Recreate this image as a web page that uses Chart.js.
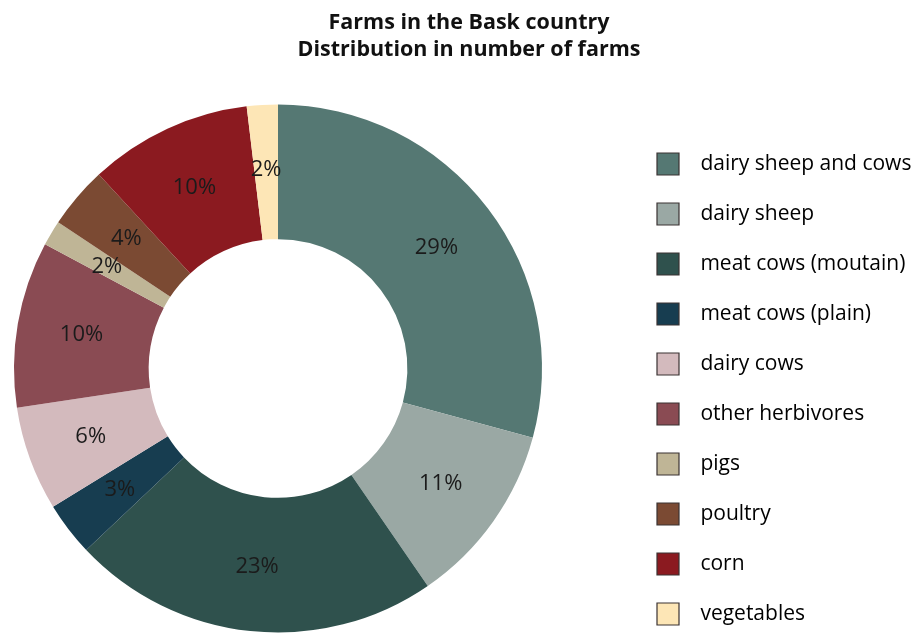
<!DOCTYPE html>
<html>
<head>
<meta charset="utf-8">
<script src="https://cdn.jsdelivr.net/npm/chart.js@4.4.1/dist/chart.umd.min.js"></script>
<style>
  html, body { margin: 0; padding: 0; background: #ffffff; overflow: hidden; }
  #wrap { width: 924px; height: 634px; position: relative; }
</style>
</head>
<body>
<div id="wrap"><canvas id="c" width="924" height="634"></canvas></div>
<script>
const titleLines = ['Farms in the Bask country', 'Distribution in number of farms'];
const categories = ['dairy sheep and cows', 'dairy sheep', 'meat cows (moutain)', 'meat cows (plain)', 'dairy cows', 'other herbivores', 'pigs', 'poultry', 'corn', 'vegetables'];
const shares = [29.3, 11.2, 22.6, 3.3, 6.4, 10.2, 1.55, 3.8, 10.0, 1.9];
const colors = ['#557873', '#9aa8a4', '#2f514d', '#173d50', '#d3babd', '#8a4b53', '#bfb596', '#7b4a33', '#8b1a20', '#fde6b6'];

const FONT = '"Open Sans", "Noto Sans", sans-serif';
const total = shares.reduce((a, b) => a + b, 0);

// layout targets (pixels)
const PIE_LEFT = 14, PIE_RIGHT = 542;
const LEGEND_LEFT = 629, LEGEND_TOP = 125;
const LEGEND_PAD = 28;

const sliceLabels = {
  id: 'sliceLabels',
  afterDatasetsDraw(chart) {
    const ctx = chart.ctx;
    const meta = chart.getDatasetMeta(0);
    ctx.save();
    ctx.font = '22px ' + FONT;
    ctx.fillStyle = '#1b1b1b';
    ctx.textAlign = 'center';
    ctx.textBaseline = 'middle';
    meta.data.forEach((arc, i) => {
      const p = arc.getProps(['x', 'y', 'startAngle', 'endAngle', 'innerRadius', 'outerRadius'], true);
      const mid = (p.startAngle + p.endAngle) / 2;
      const r = p.innerRadius + (p.outerRadius - p.innerRadius) * 0.52;
      const txt = Math.round(shares[i] / total * 100) + '%';
      ctx.fillText(txt, p.x + Math.cos(mid) * r, p.y + Math.sin(mid) * r);
    });
    ctx.restore();
  }
};

// move the legend and title boxes after the layout has sized the chart area
const boxPlacement = {
  id: 'boxPlacement',
  afterLayout(chart) {
    const W = chart.width, H = chart.height;
    const lg = chart.legend;
    if (lg) {
      lg.left = LEGEND_LEFT; lg.right = W; lg.width = W - LEGEND_LEFT;
      lg.top = LEGEND_TOP; lg.bottom = H + 80; lg.height = lg.bottom - LEGEND_TOP;
    }
    const tb = chart.titleBlock;
    if (tb) { tb.left = PIE_LEFT; tb.right = W; tb.width = W - PIE_LEFT; }
  }
};

const chart = new Chart(document.getElementById('c'), {
  type: 'doughnut',
  data: {
    labels: categories,
    datasets: [{
      data: shares,
      backgroundColor: colors,
      borderWidth: 0
    }]
  },
  options: {
    responsive: false,
    animation: false,
    cutout: '49%',
    layout: { padding: { left: PIE_LEFT, right: 99, top: 0, bottom: 0 } },
    plugins: {
      tooltip: { enabled: false },
      title: {
        display: true,
        text: titleLines,
        color: '#111111',
        font: { family: FONT, size: 21.5, weight: 'bold', lineHeight: 27 / 21.5 },
        padding: { top: 9, bottom: 40 }
      },
      legend: {
        display: true,
        position: 'right',
        align: 'start',
        labels: {
          boxWidth: 22,
          boxHeight: 22,
          padding: LEGEND_PAD,
          color: '#1e1e1e',
          font: { family: FONT, size: 21 },
          generateLabels(ch) {
            return categories.map((c, i) => ({
              text: '  ' + c,
              fillStyle: colors[i],
              strokeStyle: '#3a3232',
              lineWidth: 1.2,
              hidden: false,
              index: i
            }));
          }
        }
      }
    }
  },
  plugins: [sliceLabels, boxPlacement]
});

// size the chart area so the doughnut spans PIE_LEFT..PIE_RIGHT
for (let k = 0; k < 3; k++) {
  const diff = chart.chartArea.right - PIE_RIGHT;
  if (Math.abs(diff) < 0.5) break;
  chart.options.layout.padding.right += diff;
  chart.update('none');
}
</script>
</body>
</html>
